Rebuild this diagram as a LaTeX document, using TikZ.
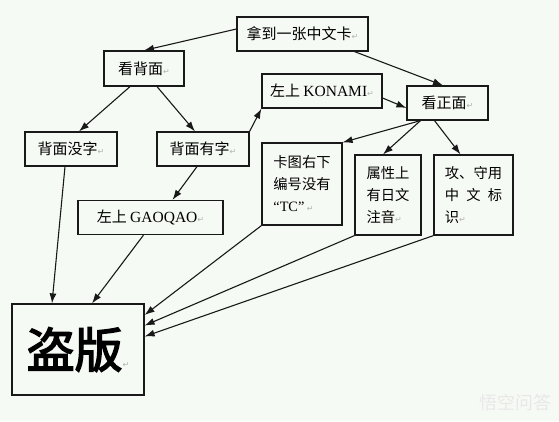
\documentclass[tikz,border=0pt]{standalone}
\usepackage{fontspec}
\setmainfont{Liberation Serif}
\newfontfamily\cjk{Noto Sans CJK SC}
\newfontfamily\cjkb[FakeBold=3]{Noto Sans CJK SC}
\newfontfamily\dv{DejaVu Sans}
\usetikzlibrary{arrows.meta,calc}
\definecolor{bg}{RGB}{246,250,244}
\definecolor{ink}{RGB}{25,25,25}
\newcommand{\pmark}{{\dv\fontsize{8}{8}\selectfont\color{gray!60}↵}}
\begin{document}
\begin{tikzpicture}[x=1pt,y=-1pt,
  box/.style={draw=ink, line width=1.2pt, inner sep=0pt, fill=bg,
    font=\cjk\fontsize{15}{21.5}\selectfont, align=center},
  mbox/.style={box, font=\cjk\fontsize{14.3}{22}\selectfont, align=left},
  conn/.style={draw=ink, line width=1.1pt, -{Latex[length=10pt,width=7pt]}}]
\fill[bg] (0,0) rectangle (559,421);
\useasboundingbox (0,0) rectangle (559,421);

\node[box, minimum width=131pt, minimum height=34pt] (top) at (302.5,34) {拿到一张中文卡\pmark};
\node[box, minimum width=80pt, minimum height=35pt] (bk) at (144,68.5) {看背面\pmark};
\node[box, minimum width=120pt, minimum height=34pt] (kon) at (322,91) {左上 {\rmfamily\fontsize{15.5}{20}\selectfont KONAMI}\pmark};
\node[box, minimum width=81pt, minimum height=34pt] (zm) at (447.5,103) {看正面\pmark};
\node[box, minimum width=92pt, minimum height=34pt] (mz) at (71,149) {背面没字\pmark};
\node[box, minimum width=92pt, minimum height=34pt] (yz) at (203,149) {背面有字\pmark};
\node[mbox, minimum width=80pt, minimum height=82pt] (tc) at (302,184) {卡图右下\\编号没有\\{\rmfamily “TC”}\,\pmark};
\node[mbox, minimum width=66pt, minimum height=80pt] (sx) at (388,195) {属性上\\有日文\\注音\pmark};
\node[mbox, minimum width=79pt, minimum height=80pt] (gs) at (473.5,195) {攻、守用\\\makebox[4em][s]{中\hfill 文\hfill 标}\\识\pmark};
\node[box, minimum width=145pt, minimum height=34pt] (gao) at (150.5,217.5) {左上 {\rmfamily\fontsize{15.5}{20}\selectfont GAOQAO}\pmark};
\node[box, minimum width=132pt, minimum height=91pt] (db) at (78,349.5) {{\cjkb\fontsize{48}{48}\selectfont 盗版}\pmark};

\node[text=gray!18, font=\cjk\fontsize{18}{18}\selectfont, anchor=west] (wm) at (476,403) {悟空问答};

\draw[conn] ([yshift=5pt]top.west) -- (bk.north);
\draw[conn] ([xshift=52pt]top.south) -- ([xshift=-4.5pt]zm.north);
\draw[conn] ([xshift=-14pt]bk.south) -- ([xshift=8pt]mz.north);
\draw[conn] ([xshift=13pt]bk.south) -- ([xshift=-8pt]yz.north);
\draw[conn] (yz.north east) -- (kon.south west);
\draw[conn] ([xshift=-6pt]yz.south) -- ([xshift=22pt]gao.north);
\draw[conn] ([yshift=-7pt]kon.east) -- ([yshift=-5pt]zm.west);
\draw[conn] ([xshift=-27pt]zm.south) -- (tc.north east);
\draw[conn] ([xshift=-27pt]zm.south) -- ([xshift=-5pt]sx.north);
\draw[conn] ([xshift=-13pt]zm.south) -- ([xshift=-13pt]gs.north);
\draw[conn] ([xshift=-6pt]mz.south) -- ([xshift=-26pt]db.north);
\draw[conn] ([xshift=-7pt]gao.south) -- ([xshift=14pt]db.north);
\draw[conn] (tc.south west) -- ([yshift=34.5pt]db.east);
\draw[conn] (sx.south west) -- ([yshift=24pt]db.east);
\draw[conn] (gs.south west) -- ([yshift=13pt]db.east);
\end{tikzpicture}
\end{document}
